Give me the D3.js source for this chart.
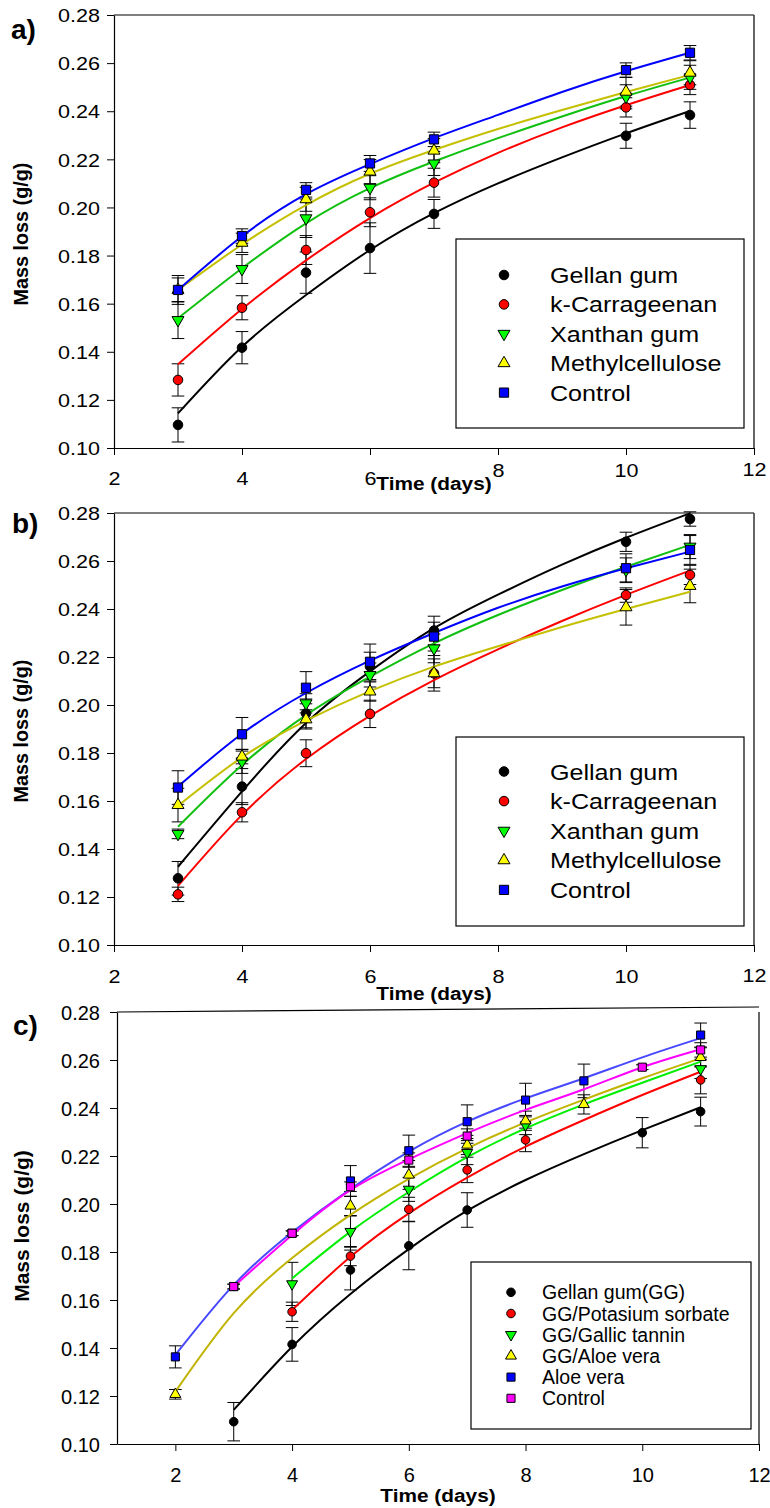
<!DOCTYPE html>
<html>
<head>
<meta charset="utf-8">
<script src="https://cdn.jsdelivr.net/npm/d3@7"></script>
<style>
  body { margin: 0; background: #fff; }
  svg { display: block; }
  text { font-family: "Liberation Sans", Arial, sans-serif; fill: #000; }
</style>
</head>
<body>
<script>
// ---------- data ----------
const yTicks = [0.10, 0.12, 0.14, 0.16, 0.18, 0.20, 0.22, 0.24, 0.26, 0.28];
const xTicks = [2, 4, 6, 8, 10, 12];

// panel a) measured points
const aNames = ["Gellan gum", "k-Carrageenan", "Xanthan gum", "Methylcellulose", "Control"];
const aDays = [3, 4, 5, 6, 7, 10, 11];
const aGellan = [0.1096, 0.1417, 0.1729, 0.1831, 0.1973, 0.2298, 0.2384];
const aGellanErr = [0.0071, 0.0067, 0.0086, 0.0105, 0.006, 0.0052, 0.0055];
const aCarr = [0.1283, 0.1583, 0.1823, 0.1980, 0.2103, 0.2416, 0.2509];
const aCarrErr = [0.0067, 0.005, 0.006, 0.006, 0.006, 0.004, 0.004];
const aXan = [0.1532, 0.1744, 0.1955, 0.2082, 0.2183, 0.2460, 0.2541];
const aXanErr = [0.0077, 0.006, 0.008, 0.005, 0.005, 0.005, 0.005];
const aMeth = [0.1657, 0.1853, 0.2034, 0.2149, 0.2236, 0.2481, 0.2560];
const aMethErr = [0.005, 0.004, 0.005, 0.005, 0.005, 0.006, 0.005];
const aCtrl = [0.1657, 0.1881, 0.2073, 0.2183, 0.2283, 0.2571, 0.2643];
const aCtrlErr = [0.006, 0.003, 0.003, 0.0033, 0.003, 0.003, 0.003];

// panel a) fitted curves
const fitDays = [3, 4, 5, 6, 7, 8, 9, 10, 11];
const aFitGellan = [0.1144, 0.1421, 0.1636, 0.1823, 0.1976, 0.2100, 0.2208, 0.2308, 0.2401];
const aFitCarr = [0.1348, 0.1578, 0.1780, 0.1956, 0.2103, 0.2227, 0.2333, 0.2425, 0.2509];
const aFitXan = [0.1539, 0.1747, 0.1934, 0.2080, 0.2191, 0.2288, 0.2378, 0.2463, 0.2540];
const aFitMeth = [0.1657, 0.1846, 0.2010, 0.2140, 0.2239, 0.2326, 0.2405, 0.2480, 0.2551];
const aFitCtrl = [0.1657, 0.1880, 0.2055, 0.2180, 0.2288, 0.2385, 0.2480, 0.2566, 0.2643];

// panel b)
const bGellan = [0.1278, 0.1660, 0.1965, 0.2160, 0.2310, 0.2680, 0.2775];
const bGellanErr = [0.007, 0.0075, 0.006, 0.006, 0.006, 0.004, 0.003];
const bCarr = [0.1211, 0.1553, 0.1799, 0.1963, 0.2132, 0.2458, 0.2542];
const bCarrErr = [0.003, 0.004, 0.0056, 0.0057, 0.0074, 0.003, 0.004];
const bXan = [0.1463, 0.1765, 0.2007, 0.2125, 0.2236, 0.2563, 0.2660];
const bXanErr = [0.002, 0.005, 0.004, 0.005, 0.006, 0.005, 0.005];
const bMeth = [0.1583, 0.1785, 0.1940, 0.2056, 0.2132, 0.2407, 0.2496];
const bMethErr = [0.007, 0.003, 0.004, 0.004, 0.006, 0.0074, 0.007];
const bCtrl = [0.1656, 0.1878, 0.2072, 0.2180, 0.2285, 0.2570, 0.2646];
const bCtrlErr = [0.007, 0.007, 0.0067, 0.0074, 0.006, 0.006, 0.006];

const bFitGellan = [0.1326, 0.1640, 0.1925, 0.2140, 0.2320, 0.2460, 0.2585, 0.2697, 0.2799];
const bFitCarr = [0.1246, 0.1542, 0.1775, 0.1955, 0.2104, 0.2232, 0.2350, 0.2459, 0.2560];
const bFitXan = [0.1493, 0.1750, 0.1958, 0.2118, 0.2257, 0.2375, 0.2479, 0.2576, 0.2667];
const bFitMeth = [0.1580, 0.1782, 0.1935, 0.2058, 0.2160, 0.2245, 0.2325, 0.2400, 0.2472];
const bFitCtrl = [0.1660, 0.1880, 0.2050, 0.2185, 0.2300, 0.2405, 0.2494, 0.2570, 0.2639];

// panel c)
const cNames = ["Gellan gum(GG)", "GG/Potasium sorbate", "GG/Gallic tannin", "GG/Aloe vera", "Aloe vera", "Control"];
const cGellanDays = [3, 4, 5, 6, 7, 10, 11];
const cGellan = [0.1093, 0.1415, 0.1725, 0.1826, 0.1975, 0.2297, 0.2385];
const cGellanErr = [0.008, 0.007, 0.0083, 0.010, 0.0072, 0.0063, 0.006];
const cSorbDays = [4, 5, 6, 7, 8, 11];
const cSorb = [0.1551, 0.1783, 0.1978, 0.2142, 0.2267, 0.2517];
const cSorbErr = [0.004, 0.004, 0.005, 0.0053, 0.0049, 0.0058];
const cTanDays = [4, 5, 6, 7, 8, 11];
const cTan = [0.1667, 0.1885, 0.2061, 0.2214, 0.2329, 0.2563];
const cTanErr = [0.009, 0.0065, 0.005, 0.005, 0.004, 0.004];
const cAloeGGDays = [2, 5, 6, 7, 8, 9, 11];
const cAloeGG = [0.1207, 0.1992, 0.2121, 0.2246, 0.2347, 0.2415, 0.2611];
const cAloeGGErr = [0.002, 0.004, 0.006, 0.004, 0.004, 0.004, 0.004];
const cAloeDays = [2, 3, 4, 5, 6, 7, 8, 9, 11];
const cAloe = [0.1363, 0.1656, 0.1878, 0.2096, 0.2222, 0.2343, 0.2433, 0.2513, 0.2704];
const cAloeErr = [0.0046, 0.001, 0.001, 0.0064, 0.0065, 0.007, 0.007, 0.007, 0.005];
const cCtrlDays = [3, 4, 5, 6, 7, 10, 11];
const cCtrl = [0.1656, 0.1878, 0.2072, 0.2183, 0.2283, 0.2570, 0.2642];
const cCtrlErr = [0.001, 0.001, 0.002, 0.003, 0.003, 0.001, 0.003];

const cFitGellan = [0.1142, 0.1405, 0.1625, 0.1812, 0.1972, 0.2100, 0.2208, 0.2308, 0.2403];
const cFitSorbDays = [4, 5, 6, 7, 8, 9, 10, 11];
const cFitSorb = [0.1558, 0.1780, 0.1961, 0.2110, 0.2239, 0.2350, 0.2454, 0.2551];
const cFitTan = [0.1690, 0.1885, 0.2050, 0.2195, 0.2315, 0.2415, 0.2505, 0.2593];
const cFitAloeDays = [2, 3, 4, 5, 6, 7, 8, 9, 10, 11];
const cFitAloeGG = [0.1218, 0.1545, 0.1775, 0.1955, 0.2105, 0.2232, 0.2340, 0.2435, 0.2524, 0.2607];
const cFitAloe = [0.1371, 0.1663, 0.1882, 0.2062, 0.2218, 0.2343, 0.2440, 0.2524, 0.2611, 0.2691];
const cFitCtrl = [0.1656, 0.1871, 0.2058, 0.2186, 0.2295, 0.2392, 0.2478, 0.2570, 0.2645];

// ---------- drawing ----------
const svg = d3.select("body").append("svg")
    .attr("width", 770)
    .attr("height", 1508);

const fmt = d3.format(".2f");

// text with a horizontal stretch (the a/b artwork is a bit wider than tall)
function stext(g, x, y, str, size, sx, anchor, bold) {
    return g.append("text")
        .attr("transform", `translate(${x},${y}) scale(${sx},1)`)
        .attr("text-anchor", anchor || "start")
        .attr("font-size", size + "px")
        .attr("font-weight", bold ? "bold" : "normal")
        .text(str);
}

const symbols = {
    circle: d3.symbolCircle,
    down: d3.symbolTriangle,
    up: d3.symbolTriangle,
    square: d3.symbolSquare
};

function marker(g, kind, fill, cx, cy, size) {
    g.append("path")
        .attr("d", d3.symbol().type(symbols[kind]).size(size[kind])())
        .attr("transform", `translate(${cx},${cy})` + (kind === "down" ? " rotate(180)" : ""))
        .attr("fill", fill)
        .attr("stroke", "#000")
        .attr("stroke-width", 1);
}

function drawPanel(p) {
    const g = svg.append("g");
    const [x0, x1] = p.x.range();
    const yTop = p.y(0.28);

    // frame (top + right)
    g.append("line")
        .attr("x1", x0).attr("x2", x1)
        .attr("y1", yTop).attr("y2", yTop + (p.topTilt || 0))
        .attr("stroke", "#000").attr("stroke-width", 1.2);
    g.append("line")
        .attr("x1", x1).attr("x2", x1)
        .attr("y1", yTop).attr("y2", p.y(0.10))
        .attr("stroke", "#333").attr("stroke-width", 1.5);

    // y axis
    const ya = g.append("g")
        .attr("transform", `translate(${x0},0)`)
        .attr("font-size", null).attr("font-family", null)
        .call(d3.axisLeft(p.y).tickValues(yTicks).tickSize(7).tickSizeOuter(0).tickFormat(fmt));
    ya.select(".domain").attr("stroke", "#000").attr("stroke-width", 1.2);
    ya.selectAll(".tick line").attr("stroke", "#000");
    ya.selectAll(".tick text")
        .attr("x", null).attr("dy", null)
        .attr("font-size", p.tickSize + "px")
        .attr("transform", `translate(${-p.yPad},${p.yBase}) scale(${p.tickSx},1)`);

    // x axis
    const xa = g.append("g")
        .attr("transform", `translate(0,${p.y(0.10)})`)
        .attr("font-size", null).attr("font-family", null)
        .call(d3.axisBottom(p.x).tickValues(xTicks).tickSize(7).tickSizeOuter(0));
    xa.select(".domain").attr("stroke", "#000").attr("stroke-width", 1.2);
    xa.selectAll(".tick line").attr("stroke", "#000");
    xa.selectAll(".tick text")
        .attr("y", null).attr("dy", null)
        .attr("font-size", p.tickSize + "px")
        .attr("transform", (d, i) => `translate(0,${p.xBase[i]}) scale(${p.tickSx},1)`);

    // titles
    stext(g, (x0 + x1) / 2, p.titleY, "Time (days)", 18.6, 1.12, "middle", true);
    g.append("text")
        .attr("transform", `translate(${p.yTitleX},${p.yTitleY}) rotate(-90)`)
        .attr("text-anchor", "middle")
        .attr("font-size", p.yTitleSize + "px")
        .attr("font-weight", "bold")
        .text("Mass loss (g/g)");
    g.append("text")
        .attr("x", p.label[1]).attr("y", p.label[2])
        .attr("font-size", "28px")
        .attr("font-weight", "bold")
        .text(p.label[0]);

    const line = d3.line()
        .x(d => p.x(d[0]))
        .y(d => p.y(d[1]))
        .curve(d3.curveNatural);

    // error bars
    p.series.forEach(s => {
        s.days.forEach((d, i) => {
            const cx = p.x(d), lo = p.y(s.vals[i] - s.errs[i]), hi = p.y(s.vals[i] + s.errs[i]);
            g.append("line").attr("x1", cx).attr("x2", cx).attr("y1", lo).attr("y2", hi)
                .attr("stroke", "#000").attr("stroke-width", 1);
            [lo, hi].forEach(yy => g.append("line")
                .attr("x1", cx - 6.3).attr("x2", cx + 6.3).attr("y1", yy).attr("y2", yy)
                .attr("stroke", "#000").attr("stroke-width", 1));
        });
    });

    // fitted curves
    p.series.forEach(s => {
        g.append("path")
            .attr("d", line(d3.zip(s.fitDays, s.fit)))
            .attr("fill", "none")
            .attr("stroke", s.line)
            .attr("stroke-width", 2);
    });

    // points
    p.series.forEach(s => {
        s.days.forEach((d, i) => marker(g, s.kind, s.fill, p.x(d), p.y(s.vals[i]), p.msize));
    });

    // legend
    const L = p.legend;
    g.append("rect")
        .attr("x", L.box[0]).attr("y", L.box[1])
        .attr("width", L.box[2] - L.box[0]).attr("height", L.box[3] - L.box[1])
        .attr("fill", "#fff").attr("stroke", "#000").attr("stroke-width", 1.2);
    p.series.forEach((s, i) => {
        const ry = L.row0 + i * L.step;
        marker(g, s.kind, s.fill, L.mx, ry, p.msize);
        stext(g, L.tx, ry + L.base, s.name, L.size, L.sx, "start", false);
    });
}

function makeSeries(names, kinds, fills, lines, days, vals, errs, fitDaysList, fits) {
    return names.map((n, i) => ({
        name: n, kind: kinds[i], fill: fills[i], line: lines[i],
        days: days[i], vals: vals[i], errs: errs[i],
        fitDays: fitDaysList[i], fit: fits[i]
    }));
}

const kindsAB = ["circle", "circle", "down", "up", "square"];
const fillsAB = ["#000000", "#ff0000", "#00ff00", "#ffff00", "#0000ff"];
const linesAB = ["#000000", "#ff0000", "#10c010", "#c4c000", "#0000ff"];
const msizeAB = { circle: 72, down: 62, up: 62, square: 85 };

drawPanel({
    x: d3.scaleLinear().domain([2, 12]).range([114, 754]),
    y: d3.scaleLinear().domain([0.10, 0.28]).range([448, 15]),
    tickSize: 18.6, tickSx: 1.16, yPad: 14, yBase: 6.7,
    xBase: [37, 37, 37, 29, 29, 28],
    titleY: 490, yTitleX: 28, yTitleY: 234, yTitleSize: 19.8,
    label: ["a)", 11, 39],
    msize: msizeAB,
    series: makeSeries(aNames, kindsAB, fillsAB, linesAB,
        [aDays, aDays, aDays, aDays, aDays],
        [aGellan, aCarr, aXan, aMeth, aCtrl],
        [aGellanErr, aCarrErr, aXanErr, aMethErr, aCtrlErr],
        [fitDays, fitDays, fitDays, fitDays, fitDays],
        [aFitGellan, aFitCarr, aFitXan, aFitMeth, aFitCtrl]),
    legend: { box: [456, 239, 744, 428], mx: 504, tx: 550, row0: 275, step: 29.4, base: 8, size: 22, sx: 1.14 }
});

drawPanel({
    x: d3.scaleLinear().domain([2, 12]).range([114, 754]),
    y: d3.scaleLinear().domain([0.10, 0.28]).range([945, 513]),
    tickSize: 18.6, tickSx: 1.16, yPad: 14, yBase: 6.7,
    xBase: [38, 38, 38, 38, 38, 37],
    titleY: 1000, yTitleX: 28, yTitleY: 731, yTitleSize: 19.8,
    label: ["b)", 12, 533],
    msize: msizeAB,
    series: makeSeries(aNames, kindsAB, fillsAB, linesAB,
        [aDays, aDays, aDays, aDays, aDays],
        [bGellan, bCarr, bXan, bMeth, bCtrl],
        [bGellanErr, bCarrErr, bXanErr, bMethErr, bCtrlErr],
        [fitDays, fitDays, fitDays, fitDays, fitDays],
        [bFitGellan, bFitCarr, bFitXan, bFitMeth, bFitCtrl]),
    legend: { box: [456, 737, 744, 926], mx: 504, tx: 550, row0: 771.5, step: 29.6, base: 8, size: 22, sx: 1.14 }
});

drawPanel({
    x: d3.scaleLinear().domain([1, 12]).range([117, 759]),
    y: d3.scaleLinear().domain([0.10, 0.28]).range([1444, 1012]),
    tickSize: 20, tickSx: 1, yPad: 17, yBase: 7.5,
    xBase: [38, 38, 38, 38, 38, 38],
    topTilt: -5,
    titleY: 1502, yTitleX: 29, yTitleY: 1226, yTitleSize: 21,
    label: ["c)", 13, 1035],
    msize: { circle: 58, down: 52, up: 52, square: 66 },
    series: makeSeries(cNames,
        ["circle", "circle", "down", "up", "square", "square"],
        ["#000000", "#ff0000", "#00ff00", "#ffff00", "#0000ff", "#ff00ff"],
        ["#000000", "#ff0000", "#00ee00", "#c0b400", "#4848ff", "#ff00ff"],
        [cGellanDays, cSorbDays, cTanDays, cAloeGGDays, cAloeDays, cCtrlDays],
        [cGellan, cSorb, cTan, cAloeGG, cAloe, cCtrl],
        [cGellanErr, cSorbErr, cTanErr, cAloeGGErr, cAloeErr, cCtrlErr],
        [fitDays, cFitSorbDays, cFitSorbDays, cFitAloeDays, cFitAloeDays, fitDays],
        [cFitGellan, cFitSorb, cFitTan, cFitAloeGG, cFitAloe, cFitCtrl]),
    legend: { box: [471, 1262, 751, 1429], mx: 511, tx: 542, row0: 1292.3, step: 21.2, base: 7, size: 19.5, sx: 1 }
});
</script>
</body>
</html>
